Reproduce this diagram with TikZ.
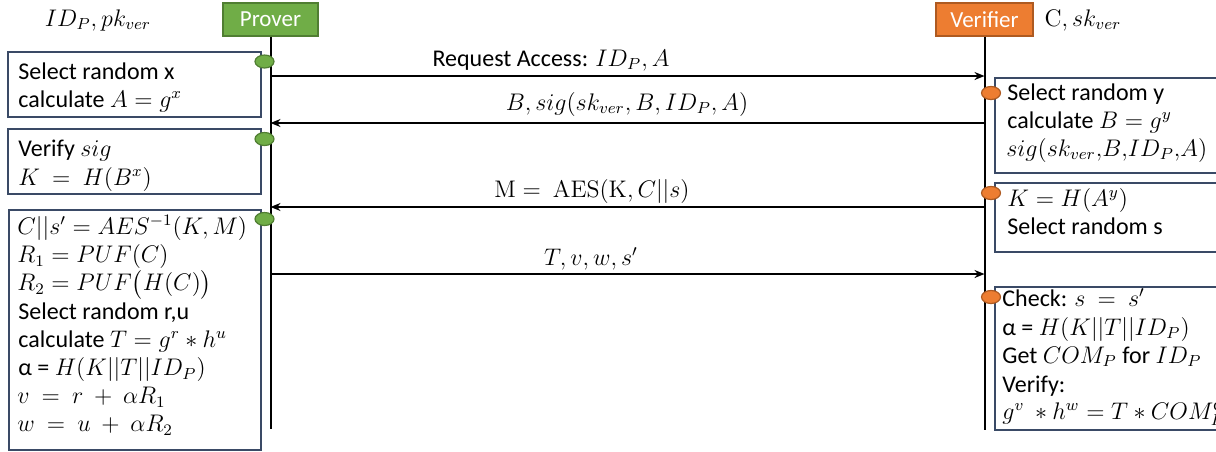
\documentclass[tikz,border=0pt]{standalone}
\usepackage{amsmath}
\usepackage[no-math]{fontspec}
\setmainfont{Carlito}
\usetikzlibrary{arrows.meta,fit,shapes.geometric}
\definecolor{pgreen}{HTML}{70AD47}
\definecolor{pgreenD}{HTML}{507E32}
\definecolor{vorange}{HTML}{ED7D31}
\definecolor{vorangeD}{HTML}{AE5A21}
\definecolor{boxline}{HTML}{3A4A66}
\begin{document}
\begin{tikzpicture}[x=0.5pt,y=-0.5pt,
  font=\fontsize{12}{14}\selectfont,
  actorP/.style={draw=pgreenD,fill=pgreen,text=white,line width=0.7pt,inner sep=0,font=\fontsize{11.5}{14}\selectfont},
  actorV/.style={draw=vorangeD,fill=vorange,text=white,line width=0.7pt,inner sep=0,font=\fontsize{11.5}{14}\selectfont},
  stepbox/.style={draw=boxline,line width=0.8pt,inner sep=0},
  life/.style={line width=1pt,black},
  msg/.style={line width=1pt,-{Stealth[length=5pt,width=4pt]}},
  gdot/.style={ellipse,draw=pgreenD,fill=pgreen,line width=0.6pt,minimum width=9.5pt,minimum height=6.5pt,inner sep=0},
  odot/.style={ellipse,draw=vorangeD,fill=vorange,line width=0.6pt,minimum width=9.5pt,minimum height=6.5pt,inner sep=0},
  ln/.style={anchor=base west,inner sep=0},
  lbl/.style={anchor=base,inner sep=0}]
\useasboundingbox (0,0) rectangle (1216,451);

% actors
\node[actorP,fit={(223,3)(318,36)}] (prover) {};
\node[text=white,font=\fontsize{11.5}{14}\selectfont] (provert) at (prover.center) {Prover};
\node[actorV,fit={(936,3)(1033,36)}] (verifier) {};
\node[text=white,font=\fontsize{11.5}{14}\selectfont] (verifiert) at (verifier.center) {Verifier};
\node (pknow) at (98,20) {$ID_P, pk_{ver}$};
\node (vknow) at (1083,20) {$\mathrm{C}, sk_{ver}$};

% lifelines
\coordinate (pend) at (270.5,429);
\coordinate (vend) at (984.5,430);
\draw[life] (prover.south) -- (pend);
\draw[life] (verifier.south) -- (vend);

% left boxes
\node[stepbox,fit={(8,52)(261,117)}] (lb1) {};
\node[stepbox,fit={(8,129)(261,194)}] (lb2) {};
\node[stepbox,fit={(9,210)(261,450)}] (lb3) {};

% right boxes (cut by page edge)
\node[stepbox,fit={(995,78)(1226,173)}] (rb1) {};
\node[stepbox,fit={(995,183)(1226,252)}] (rb2) {};
\node[stepbox,fit={(995,287)(1226,430)}] (rb3) {};

% dots
\node[gdot] (g1) at (264.5,61.5) {};
\node[gdot] (g2) at (264.5,139) {};
\node[gdot] (g3) at (264.5,219) {};
\node[odot] (o1) at (991,93) {};
\node[odot] (o2) at (991,193) {};
\node[odot] (o3) at (991,297) {};

% left texts
\node[ln] (t11) at (18,79) {Select random x};
\node[ln] (t12) at (18,107) {calculate $A = g^x$};
\node[ln] (t21) at (18,156) {Verify $sig$};
\node[ln] (t22) at (18,185) {$K\ =\ H(B^x)$};
\node[ln] (t31) at (17,234.5) {$C||s' = AES^{-1}(K,M)$};
\node[ln] (t32) at (17,262.7) {$R_1 = PUF(C)$};
\node[ln] (t33) at (17,290.9) {$R_2 = PUF\big(H(C)\big)$};
\node[ln] (t34) at (18,319.1) {Select random r,u};
\node[ln] (t35) at (18,347.3) {calculate $T = g^r * h^u$};
\node[ln] (t36) at (18,375.5) {α = $H(K||T||ID_P)$};
\node[ln] (t37) at (17,403.7) {$v\ =\ r\ +\ \alpha R_1$};
\node[ln] (t38) at (17,431.9) {$w\ =\ u\ +\ \alpha R_2$};

% right texts
\node[ln] (r11) at (1007,100) {Select random y};
\node[ln] (r12) at (1007,128) {calculate $B = g^y$};
\node[ln] (r13) at (1006,156) {$sig(sk_{ver}{,}B{,}ID_P{,}A)$};
\node[ln] (r21) at (1007,206) {$K = H(A^y)$};
\node[ln] (r22) at (1007,234) {Select random s};
\node[ln] (r31) at (1002,306) {Check: $s\ =\ s'$};
\node[ln] (r32) at (1002,335) {α = $H(K||T||ID_P)$};
\node[ln] (r33) at (1002,363) {Get $COM_P$ for $ID_P$};
\node[ln] (r34) at (1002,392) {Verify:};
\node[ln] (r35) at (1002,419) {$g^v\ * h^w = T * COM_P^{\text{α}}$};

% messages
\coordinate (m1s) at (270.5,76);  \coordinate (m1e) at (984.5,76);
\coordinate (m2s) at (984.5,123); \coordinate (m2e) at (270.5,123);
\coordinate (m3s) at (984.5,207); \coordinate (m3e) at (270.5,207);
\coordinate (m4s) at (270.5,274); \coordinate (m4e) at (984.5,274);
\draw[msg] (m1s) -- (m1e);
\draw[msg] (m2s) -- (m2e);
\draw[msg] (m3s) -- (m3e);
\draw[msg] (m4s) -- (m4e);
\node[lbl] (l1) at (551,66) {Request Access: $ID_P, A$};
\node[lbl] (l2) at (627,110) {$B, sig(sk_{ver}, B, ID_P, A)$};
\node[lbl] (l3) at (592,197) {$\mathrm{M} =\ \mathrm{AES}(\mathrm{K}, C||s)$};
\node[lbl] (l4) at (591,265) {$T, v, w, s'$};
\end{tikzpicture}
\end{document}
